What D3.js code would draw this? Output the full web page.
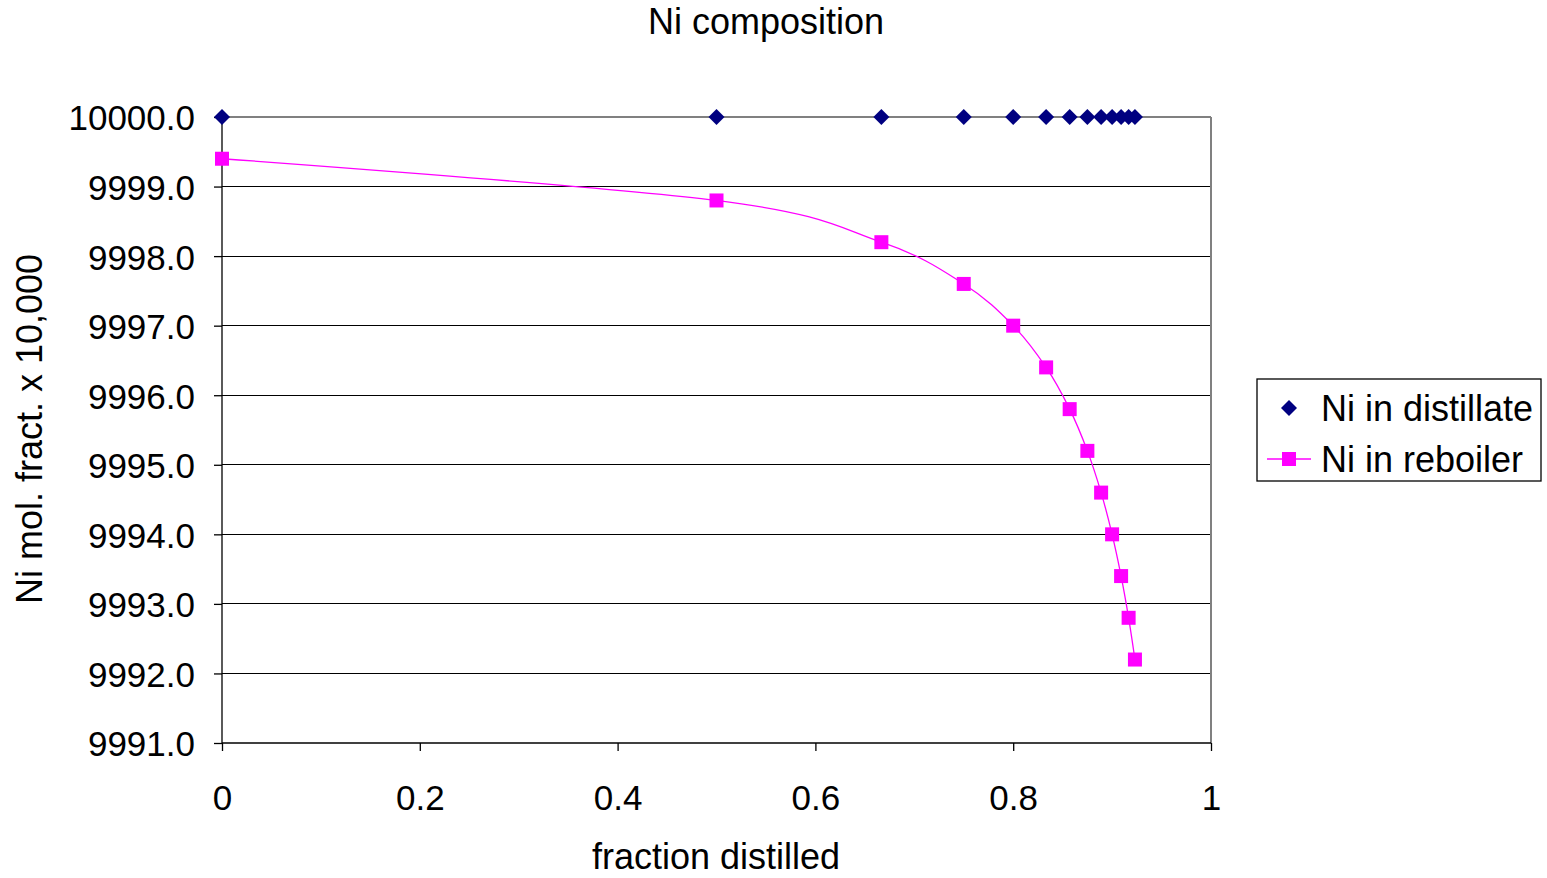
<!DOCTYPE html>
<html>
<head>
<meta charset="utf-8">
<script src="https://cdn.jsdelivr.net/npm/d3@7"></script>
<style>
  html, body { margin: 0; padding: 0; background: #fff; }
  svg { display: block; font-family: "Liberation Sans", Arial, sans-serif; }
</style>
</head>
<body>
<svg id="chart" width="1547" height="878"></svg>
<script>
// ---- data ----
const fractionDistilled = [0, 0.5, 0.6667, 0.75, 0.8, 0.8333, 0.8571, 0.875, 0.8889, 0.9, 0.9091, 0.9167, 0.9231];
const niDistillate = [10000, 10000, 10000, 10000, 10000, 10000, 10000, 10000, 10000, 10000, 10000, 10000, 10000];
const niReboiler = [9999.4, 9998.8, 9998.2, 9997.6, 9997.0, 9996.4, 9995.8, 9995.2, 9994.6, 9994.0, 9993.4, 9992.8, 9992.2];
const xTicks = [0, 0.2, 0.4, 0.6, 0.8, 1];
const yTicks = [9991, 9992, 9993, 9994, 9995, 9996, 9997, 9998, 9999, 10000];
const seriesNames = ["Ni in distillate", "Ni in reboiler"];
const titleText = "Ni composition";
const xTitle = "fraction distilled";
const yTitle = "Ni mol. fract. x 10,000";

// ---- layout ----
const svg = d3.select("#chart");
const L = 222, R = 1211, T = 117, B = 743;
const x = d3.scaleLinear().domain([0, 1]).range([L, R]);
const y = d3.scaleLinear().domain([9991, 10000]).range([B, T]);

// gridlines
svg.append("g").selectAll("line").data(yTicks.filter(d => d !== 9991)).join("line")
  .attr("x1", L).attr("x2", R)
  .attr("y1", d => y(d)).attr("y2", d => y(d))
  .attr("stroke", d => d === 10000 ? "#808080" : "#000")
  .attr("stroke-width", 1.2)
  .attr("shape-rendering", "crispEdges");

// right border
svg.append("line").attr("x1", R).attr("x2", R).attr("y1", T).attr("y2", B)
  .attr("stroke", "#808080").attr("stroke-width", 1.5).attr("shape-rendering", "crispEdges");

// axes
const xAxis = d3.axisBottom(x).tickValues(xTicks).tickSize(8).tickPadding(34)
  .tickFormat(d => d === 0 ? "0" : d === 1 ? "1" : d3.format(".1f")(d));
const gx = svg.append("g").attr("transform", `translate(0,${B})`).call(xAxis);
gx.select(".domain").attr("stroke", "#000").attr("stroke-width", 1.3).attr("d", `M${L},0H${R}`);
gx.selectAll(".tick line").attr("stroke", "#000").attr("stroke-width", 1.3);
gx.selectAll(".tick text").attr("font-size", 35).attr("fill", "#000")
  .attr("font-family", "Liberation Sans, Arial, sans-serif");

const yAxis = d3.axisLeft(y).tickValues(yTicks).tickSize(8).tickPadding(19)
  .tickFormat(d3.format(".1f"));
const gy = svg.append("g").attr("transform", `translate(${L},0)`).call(yAxis);
gy.select(".domain").attr("stroke", "#000").attr("stroke-width", 1.3).attr("d", `M0,${T}V${B}`);
gy.selectAll(".tick line").attr("stroke", "#000").attr("stroke-width", 1.3);
gy.selectAll(".tick text").attr("font-size", 35).attr("fill", "#000")
  .attr("font-family", "Liberation Sans, Arial, sans-serif").attr("dy", "0.37em");

// reboiler smoothed line
const pts = fractionDistilled.map((f, i) => [f, niReboiler[i]]);
svg.append("path").datum(pts)
  .attr("d", d3.line().x(d => x(d[0])).y(d => y(d[1])).curve(d3.curveCatmullRom.alpha(0)))
  .attr("fill", "none").attr("stroke", "#FF00FF").attr("stroke-width", 1.3);

// reboiler markers
const sq = 14;
svg.append("g").selectAll("rect").data(pts).join("rect")
  .attr("x", d => x(d[0]) - sq / 2).attr("y", d => y(d[1]) - sq / 2)
  .attr("width", sq).attr("height", sq).attr("fill", "#FF00FF");

// distillate markers
const dm = 8;
const diamond = (cx, cy) => `M${cx},${cy - dm}L${cx + dm},${cy}L${cx},${cy + dm}L${cx - dm},${cy}Z`;
svg.append("g").selectAll("path").data(fractionDistilled.map((f, i) => [f, niDistillate[i]])).join("path")
  .attr("d", d => diamond(x(d[0]), y(d[1]))).attr("fill", "#000080");

// titles
svg.append("text").attr("x", 766).attr("y", 34).attr("text-anchor", "middle")
  .attr("font-size", 36).text(titleText);
svg.append("text").attr("x", 716).attr("y", 869).attr("text-anchor", "middle")
  .attr("font-size", 36).text(xTitle);
svg.append("text").attr("transform", "translate(42,429) rotate(-90)").attr("text-anchor", "middle")
  .attr("font-size", 36).text(yTitle);

// legend
const lg = svg.append("g");
lg.append("rect").attr("x", 1257).attr("y", 379).attr("width", 284).attr("height", 102)
  .attr("fill", "#fff").attr("stroke", "#000").attr("stroke-width", 1.3);
lg.append("path").attr("d", diamond(1289, 408)).attr("fill", "#000080");
lg.append("line").attr("x1", 1267).attr("x2", 1311).attr("y1", 459).attr("y2", 459)
  .attr("stroke", "#FF00FF").attr("stroke-width", 1.3);
lg.append("rect").attr("x", 1289 - sq / 2).attr("y", 459 - sq / 2).attr("width", sq).attr("height", sq)
  .attr("fill", "#FF00FF");
lg.selectAll("text.leg").data(seriesNames).join("text").attr("class", "leg")
  .attr("x", 1321).attr("y", (d, i) => 421 + i * 51)
  .attr("font-size", 36).text(d => d);
</script>
</body>
</html>
